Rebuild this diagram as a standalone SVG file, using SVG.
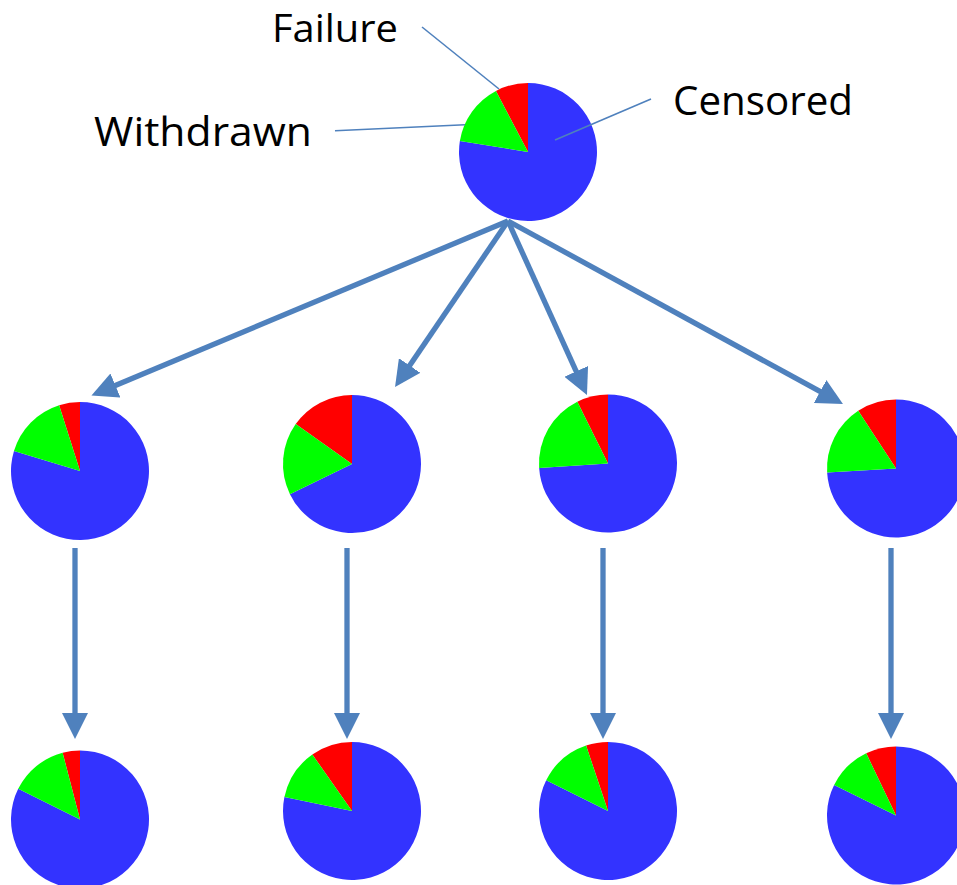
<svg xmlns="http://www.w3.org/2000/svg" width="957" height="885" viewBox="0 0 957 885">
  <style>
    .bg { fill: #ffffff; }
    .cens { fill: #3333ff; }
    .wd { fill: #00ff00; }
    .fail { fill: #ff0000; }
    .lbl { font-family: "Open Sans", "Liberation Sans", sans-serif; font-size: 41px; fill: #000000; }
    .lbl-sm { font-size: 38px; }
    .leader { stroke: #4f81bd; stroke-width: 1.6; fill: none; }
    .conn { stroke: #4f81bd; stroke-width: 5.3; fill: none; marker-end: url(#head); }
  </style>
  <defs>
    <marker id="head" markerUnits="userSpaceOnUse" markerWidth="26" markerHeight="26" refX="6" refY="13" orient="auto">
      <path d="M0,0 L26,13 L0,26 Z" fill="#4f81bd"/>
    </marker>
  </defs>
  <rect class="bg" x="0" y="0" width="957" height="885"/>

  <!-- connectors -->
  <g id="connectors">
    <line class="conn" x1="508" y1="221" x2="109.9" y2="387.8"/>
    <line class="conn" x1="508" y1="221" x2="406.3" y2="370.5"/>
    <line class="conn" x1="508" y1="221" x2="578.7" y2="376.8"/>
    <line class="conn" x1="508" y1="221" x2="825.4" y2="394.4"/>
    <line class="conn" x1="75" y1="548" x2="75" y2="719"/>
    <line class="conn" x1="347" y1="548" x2="347" y2="719"/>
    <line class="conn" x1="603" y1="548" x2="603" y2="719"/>
    <line class="conn" x1="891" y1="548" x2="891" y2="719"/>
  </g>

  <!-- root pie with labels -->
  <g id="root">
    <path class="cens" d="M528,152 L459.87,141.09 A69,69 0 1 0 528,83 Z"/>
    <path class="fail" d="M528,152 L528,83 A69,69 0 0 0 495.93,90.91 Z"/>
    <path class="wd" d="M528,152 L495.93,90.91 A69,69 0 0 0 459.87,141.09 Z"/>
    <line class="leader" x1="422" y1="27" x2="499" y2="89"/>
    <line class="leader" x1="335" y1="130.7" x2="465" y2="124.7"/>
    <line class="leader" x1="555" y1="140" x2="651" y2="99"/>
    <text class="lbl lbl-sm" x="272" y="41.5" textLength="126" lengthAdjust="spacingAndGlyphs">Failure</text>
    <text class="lbl" x="94" y="146" textLength="218" lengthAdjust="spacingAndGlyphs">Withdrawn</text>
    <text class="lbl" x="673" y="115" textLength="180" lengthAdjust="spacingAndGlyphs">Censored</text>
  </g>

  <!-- second row -->
  <g id="pie-a1">
    <path class="cens" d="M80,471 L13.98,450.94 A69,69 0 1 0 80,402 Z"/>
    <path class="fail" d="M80,471 L80,402 A69,69 0 0 0 59.13,405.23 Z"/>
    <path class="wd" d="M80,471 L59.13,405.23 A69,69 0 0 0 13.98,450.94 Z"/>
  </g>
  <g id="pie-b1">
    <path class="cens" d="M352,464 L289.93,494.14 A69,69 0 1 0 352,395 Z"/>
    <path class="fail" d="M352,464 L352,395 A69,69 0 0 0 295.69,424.12 Z"/>
    <path class="wd" d="M352,464 L295.69,424.12 A69,69 0 0 0 289.93,494.14 Z"/>
  </g>
  <g id="pie-c1">
    <path class="cens" d="M608,463.5 L539.14,467.95 A69,69 0 1 0 608,394.5 Z"/>
    <path class="fail" d="M608,463.5 L608,394.5 A69,69 0 0 0 577.32,401.7 Z"/>
    <path class="wd" d="M608,463.5 L577.32,401.7 A69,69 0 0 0 539.14,467.95 Z"/>
  </g>
  <g id="pie-d1">
    <path class="cens" d="M896,468.5 L827.12,472.47 A69,69 0 1 0 896,399.5 Z"/>
    <path class="fail" d="M896,468.5 L896,399.5 A69,69 0 0 0 858.22,410.76 Z"/>
    <path class="wd" d="M896,468.5 L858.22,410.76 A69,69 0 0 0 827.12,472.47 Z"/>
  </g>

  <!-- third row -->
  <g id="pie-a2">
    <path class="cens" d="M80,819.5 L18.2,788.82 A69,69 0 1 0 80,750.5 Z"/>
    <path class="fail" d="M80,819.5 L80,750.5 A69,69 0 0 0 62.61,752.73 Z"/>
    <path class="wd" d="M80,819.5 L62.61,752.73 A69,69 0 0 0 18.2,788.82 Z"/>
  </g>
  <g id="pie-b2">
    <path class="cens" d="M352,811 L284.41,797.12 A69,69 0 1 0 352,742 Z"/>
    <path class="fail" d="M352,811 L352,742 A69,69 0 0 0 312.32,754.55 Z"/>
    <path class="wd" d="M352,811 L312.32,754.55 A69,69 0 0 0 284.41,797.12 Z"/>
  </g>
  <g id="pie-c2">
    <path class="cens" d="M608,811 L546.2,780.32 A69,69 0 1 0 608,742 Z"/>
    <path class="fail" d="M608,811 L608,742 A69,69 0 0 0 586.11,745.57 Z"/>
    <path class="wd" d="M608,811 L586.11,745.57 A69,69 0 0 0 546.2,780.32 Z"/>
  </g>
  <g id="pie-d2">
    <path class="cens" d="M896,815.5 L834.14,784.93 A69,69 0 1 0 896,746.5 Z"/>
    <path class="fail" d="M896,815.5 L896,746.5 A69,69 0 0 0 866.19,753.28 Z"/>
    <path class="wd" d="M896,815.5 L866.19,753.28 A69,69 0 0 0 834.14,784.93 Z"/>
  </g>
</svg>
